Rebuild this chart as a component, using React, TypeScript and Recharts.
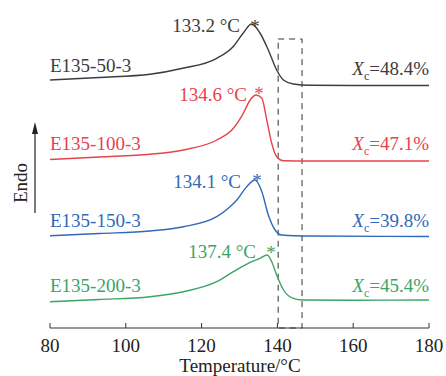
import { LineChart, Line, XAxis, YAxis, ReferenceArea } from "recharts"

const serif = "'Times New Roman', 'Liberation Serif', Times, serif"

const xTicks = [80, 100, 120, 140, 160, 180]

// curves, offset units (stacked)
const blackT = [80, 93, 106.4, 115, 124, 128.3, 131, 133.2, 135.4, 137.6, 139.8, 141.6, 144.2, 148.6, 160, 180]
const blackV = [248, 250.5, 253.7, 259.7, 269.7, 281.3, 295, 304, 295, 278, 258, 248, 244, 242.7, 242.5, 242.5]

const redT = [80, 93, 106.4, 115.2, 124, 128.4, 131, 132.8, 134.4, 135.9, 137.2, 138.5, 139.8, 141.6, 148.6, 180]
const redV = [168.5, 171, 173.7, 178, 188, 199.7, 214.7, 228, 233, 229.7, 208, 184.7, 171.3, 167.3, 167, 167]

const blueT = [80, 93, 106.4, 115.2, 124, 127.5, 129.3, 131.9, 134.1, 135.9, 137.6, 139.4, 141.1, 148.6, 180]
const blueV = [92.3, 94.5, 97, 101.3, 111.3, 121.3, 128, 141.3, 148, 136.3, 113, 98, 93, 92, 91.5]

const greenT = [80, 93, 106.4, 115.2, 124, 128.4, 132.8, 135.4, 137.3, 138.5, 139.8, 141.6, 144.2, 146.8, 160, 180]
const greenV = [26.3, 28.5, 31.3, 36.3, 46.3, 56.3, 65.7, 69.7, 73, 66.3, 53, 38, 29.7, 28, 27.8, 28]

const names = ["E135-50-3", "E135-100-3", "E135-150-3", "E135-200-3"]
const peaks = ["133.2 °C", "134.6 °C", "134.1 °C", "137.4 °C"]
const crystallinity = ["48.4%", "47.1%", "39.8%", "45.4%"]
const colors = ["#3d3d3d", "#e8434b", "#2f69b8", "#3aa565"]

const toRows = (t: number[], v: number[]) => t.map((x, i) => ({ t: x, v: v[i] }))
const series = [toRows(blackT, blackV), toRows(redT, redV), toRows(blueT, blueV), toRows(greenT, greenV)]

// label positions (px)
const nameY = [72, 150, 227, 292]
const peakPos = [
  { x: 240, y: 32, sx: 255, sy: 33 },
  { x: 247, y: 101, sx: 259, sy: 100 },
  { x: 241, y: 188, sx: 257, sy: 187 },
  { x: 256, y: 258, sx: 271, sy: 259 },
]
const xcY = [75, 150, 227, 292]

function Tick(props: any) {
  const { x, y, payload } = props
  return (
    <g>
      <line x1={x} y1={y} x2={x} y2={y - 5} stroke="#333" strokeWidth={1} />
      <text x={x} y={y + 24} textAnchor="middle" style={{ fontFamily: serif, fontSize: 19 }} fill="#222">
        {payload.value}
      </text>
    </g>
  )
}

export default function App() {
  return (
    <div style={{ position: "absolute", left: 0, top: 0, width: 446, height: 376, background: "#fff" }}>
      <LineChart width={446} height={376} margin={{ top: 10, right: 17, left: 50, bottom: 18 }}>
        <XAxis
          dataKey="t"
          type="number"
          domain={[80, 180]}
          ticks={xTicks}
          height={30}
          tickSize={0}
          tickMargin={0}
          tickLine={false}
          axisLine={{ stroke: "#333", strokeWidth: 1 }}
          tick={<Tick />}
          allowDataOverflow
        />
        <YAxis type="number" domain={[0, 318]} hide />
        <ReferenceArea x1={140.2} x2={146.5} y1={0} y2={289} fill="none" stroke="#333" strokeDasharray="6 5" strokeWidth={1} />
        {series.map((d, i) => (
          <Line
            key={names[i]}
            data={d}
            dataKey="v"
            type="monotone"
            stroke={colors[i]}
            strokeWidth={1.4}
            dot={false}
            isAnimationActive={false}
          />
        ))}
      </LineChart>
      <svg width={446} height={376} style={{ position: "absolute", left: 0, top: 0, pointerEvents: "none", fontFamily: serif, fontSize: 19 }}>
        {names.map((n, i) => (
          <g key={n} fill={colors[i]}>
            <text x={50} y={nameY[i]}>{n}</text>
            <text x={peakPos[i].x} y={peakPos[i].y} textAnchor="end">{peaks[i]}</text>
            <text x={peakPos[i].sx} y={peakPos[i].sy} textAnchor="middle">*</text>
            <text x={429} y={xcY[i]} textAnchor="end">
              <tspan fontStyle="italic">X</tspan>
              <tspan fontSize={12} dy={5}>c</tspan>
              <tspan dy={-5}>={crystallinity[i]}</tspan>
            </text>
          </g>
        ))}
        <line x1={35} y1={213} x2={35} y2={130} stroke="#222" strokeWidth={1.2} />
        <polygon points="35,122 32,134 38,134" fill="#222" />
        <text transform="translate(27,183) rotate(-90)" textAnchor="middle" fill="#222">
          Endo
        </text>
        <text x={240} y={372} textAnchor="middle" fill="#222">
          Temperature/°C
        </text>
      </svg>
    </div>
  )
}
